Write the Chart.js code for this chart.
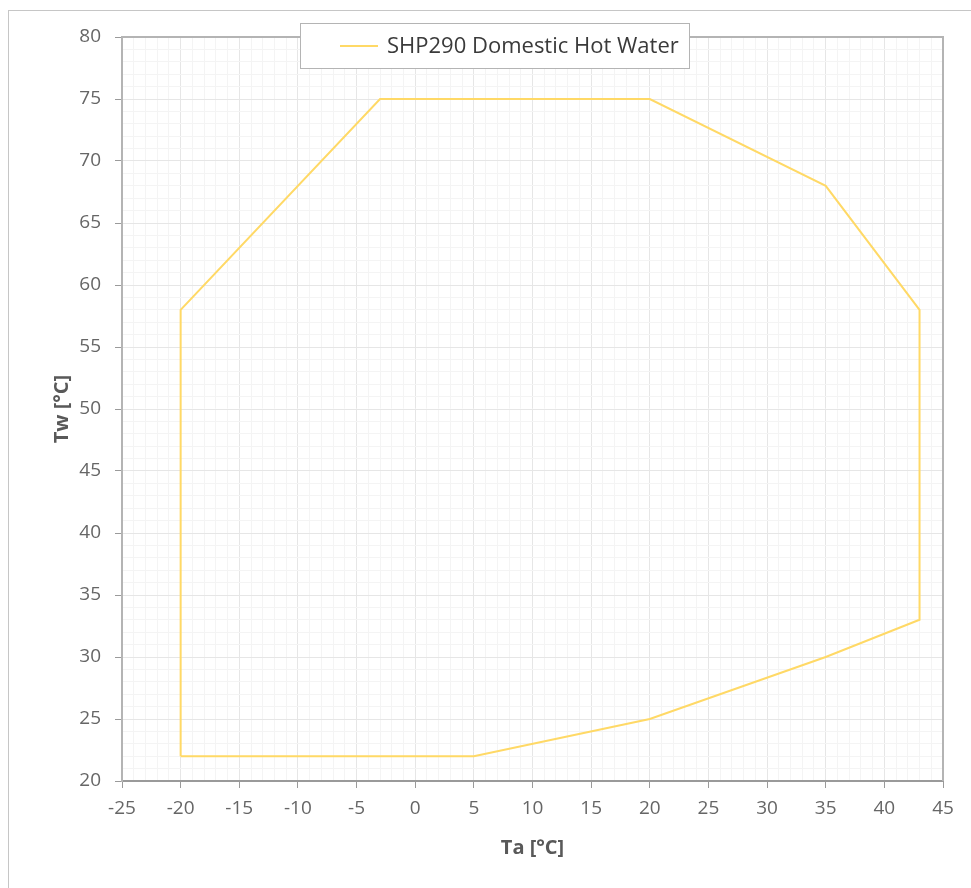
<!DOCTYPE html>
<html>
<head>
<meta charset="utf-8">
<script src="https://cdn.jsdelivr.net/npm/chart.js@4/dist/chart.umd.min.js"></script>
<style>
  html, body { margin: 0; padding: 0; overflow: hidden; background: #fff; }
  #frame { position: absolute; left: 8px; top: 10px; width: 1100px; height: 1100px; border: 1px solid #c6c6c6; }
  #wrap { position: absolute; left: 0; top: 0; width: 971px; height: 888px; }
</style>
</head>
<body>
<div id="frame"></div>
<div id="wrap"><canvas id="envelope"></canvas></div>
<script>
// operating envelope, ambient temp vs water temp
var seriesName = "SHP290 Domestic Hot Water";
var ambientTemp = [-20, 5, 20, 35, 43, 43, 35, 20, -3, -20, -20];
var waterTemp   = [22, 22, 25, 30, 33, 58, 68, 75, 75, 58, 22];
var xTicks = [-25, -20, -15, -10, -5, 0, 5, 10, 15, 20, 25, 30, 35, 40, 45];
var yTicks = [20, 25, 30, 35, 40, 45, 50, 55, 60, 65, 70, 75, 80];

var points = ambientTemp.map(function (t, i) { return { x: t, y: waterTemp[i] }; });

var font = "'Open Sans', 'Noto Sans', sans-serif";
var majorGrid = '#e6e6e6';
var minorGrid = '#f4f4f4';

function isMajor(v, list) { return list.indexOf(v) !== -1; }

// legend box that sits over the top of the plot, like the original
var floatingLegend = {
  id: 'floatingLegend',
  afterDraw: function (chart) {
    var ctx = chart.ctx, area = chart.chartArea;
    var ds = chart.data.datasets[0];
    var x = area.left + 178, y = area.top - 14, w = 389, h = 45;
    ctx.save();
    ctx.fillStyle = '#fff';
    ctx.fillRect(x, y, w, h);
    ctx.strokeStyle = '#b4b4b4';
    ctx.lineWidth = 1;
    ctx.strokeRect(x + 0.5, y + 0.5, w, h);
    ctx.strokeStyle = ds.borderColor;
    ctx.lineWidth = 2;
    ctx.beginPath();
    ctx.moveTo(x + 40, y + 23);
    ctx.lineTo(x + 78, y + 23);
    ctx.stroke();
    ctx.fillStyle = '#3a3a3a';
    ctx.font = '22px ' + font;
    ctx.textBaseline = 'middle';
    ctx.fillText(ds.label, x + 87, y + 24);
    ctx.restore();
  }
};

new Chart(document.getElementById('envelope'), {
  type: 'scatter',
  data: {
    datasets: [{
      label: seriesName,
      data: points,
      showLine: true,
      borderColor: '#ffd966',
      borderWidth: 2,
      pointRadius: 0,
      fill: false,
      tension: 0
    }]
  },
  options: {
    responsive: true,
    maintainAspectRatio: false,
    animation: false,
    layout: { padding: { top: 37, right: 28, left: 0, bottom: 0 } },
    plugins: { legend: { display: false }, tooltip: { enabled: false } },
    scales: {
      x: {
        type: 'linear',
        min: xTicks[0],
        max: xTicks[xTicks.length - 1],
        afterFit: function (s) { s.height = 107; },
        afterBuildTicks: function (s) {
          var t = [];
          for (var v = s.min; v <= s.max; v++) t.push({ value: v });
          s.ticks = t;
        },
        ticks: {
          autoSkip: false,
          maxRotation: 0,
          padding: 9,
          color: '#666666',
          font: { family: font, size: 19 },
          callback: function (v) { return isMajor(v, xTicks) ? String(v) : ''; }
        },
        grid: {
          color: function (c) { return isMajor(c.tick.value, xTicks) ? majorGrid : minorGrid; },
          tickColor: function (c) { return isMajor(c.tick.value, xTicks) ? '#9a9a9a' : 'rgba(0,0,0,0)'; },
          tickLength: 7,
          lineWidth: 1
        },
        border: { display: true, color: '#9a9a9a', width: 2 },
        title: {
          display: true,
          text: 'Ta [°C]',
          color: '#595959',
          font: { family: font, size: 20, weight: 'bold' },
          padding: { top: 0, bottom: 28 }
        }
      },
      y: {
        type: 'linear',
        min: yTicks[0],
        max: yTicks[yTicks.length - 1],
        afterFit: function (s) { s.width = 122; },
        afterBuildTicks: function (s) {
          var t = [];
          for (var v = s.min; v <= s.max; v++) t.push({ value: v });
          s.ticks = t;
        },
        ticks: {
          autoSkip: false,
          padding: 14,
          color: '#666666',
          font: { family: font, size: 19 },
          callback: function (v) { return isMajor(v, yTicks) ? String(v) : ''; }
        },
        grid: {
          color: function (c) { return isMajor(c.tick.value, yTicks) ? majorGrid : minorGrid; },
          tickColor: function (c) { return isMajor(c.tick.value, yTicks) ? '#9a9a9a' : 'rgba(0,0,0,0)'; },
          tickLength: 7,
          lineWidth: 1
        },
        border: { display: true, color: '#b4b4b4', width: 2 },
        title: {
          display: true,
          text: 'Tw [°C]',
          color: '#595959',
          font: { family: font, size: 20, weight: 'bold' },
          padding: { top: 50, bottom: 0 }
        }
      }
    }
  },
  plugins: [floatingLegend, {
    // right and top edges of the plot box
    id: 'plotBox',
    beforeDatasetsDraw: function (chart) {
      var ctx = chart.ctx, a = chart.chartArea;
      ctx.save();
      ctx.strokeStyle = '#b4b4b4';
      ctx.lineWidth = 2;
      ctx.beginPath();
      ctx.moveTo(a.left, a.top);
      ctx.lineTo(a.right, a.top);
      ctx.lineTo(a.right, a.bottom);
      ctx.stroke();
      ctx.restore();
    }
  }]
});
</script>
</body>
</html>
